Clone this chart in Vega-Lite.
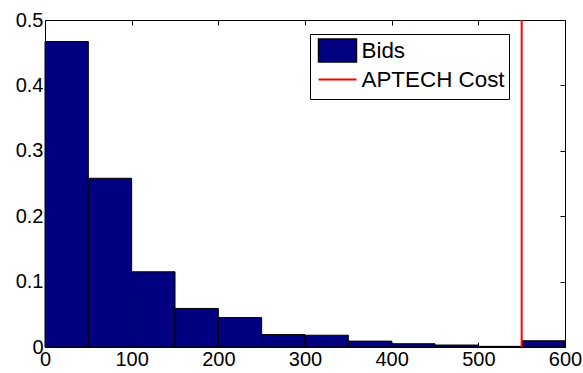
{
  "$schema": "https://vega.github.io/schema/vega-lite/v6.json",
  "width": 520,
  "height": 327,
  "autosize": "none",
  "padding": {"left": 45, "top": 20, "right": 18, "bottom": 26},
  "background": "white",
  "datasets": {
    "bins": [
      {"lo": 0, "hi": 50, "freq": 0.467, "series": "Bids"},
      {"lo": 50, "hi": 100, "freq": 0.258, "series": "Bids"},
      {"lo": 100, "hi": 150, "freq": 0.115, "series": "Bids"},
      {"lo": 150, "hi": 200, "freq": 0.059, "series": "Bids"},
      {"lo": 200, "hi": 250, "freq": 0.045, "series": "Bids"},
      {"lo": 250, "hi": 300, "freq": 0.019, "series": "Bids"},
      {"lo": 300, "hi": 350, "freq": 0.018, "series": "Bids"},
      {"lo": 350, "hi": 400, "freq": 0.009, "series": "Bids"},
      {"lo": 400, "hi": 450, "freq": 0.005, "series": "Bids"},
      {"lo": 450, "hi": 500, "freq": 0.003, "series": "Bids"},
      {"lo": 500, "hi": 550, "freq": 0.001, "series": "Bids"},
      {"lo": 550, "hi": 600, "freq": 0.0095, "series": "Bids"}
    ],
    "cost": [
      {"cost": 550, "ylo": 0, "yhi": 0.5, "series": "APTECH Cost"}
    ]
  },
  "config": {
    "view": {"stroke": "black", "strokeWidth": 1},
    "axis": {
      "grid": false,
      "domain": false,
      "labelFont": "Liberation Sans",
      "labelFontSize": 20,
      "labelColor": "black",
      "labelFlush": false,
      "labelOverlap": false,
      "tickColor": "black",
      "tickSize": -5,
      "tickWidth": 1,
      "labelPadding": 7,
      "title": null
    }
  },
  "layer": [
    {
      "data": {"name": "bins"},
      "mark": {"type": "bar", "stroke": "black", "strokeWidth": 1, "opacity": 1},
      "encoding": {
        "x": {"field": "lo", "type": "quantitative", "scale": {"domain": [0, 600], "nice": false, "zero": false},
              "axis": {"values": [0, 100, 200, 300, 400, 500, 600], "orient": "bottom"}},
        "x2": {"field": "hi"},
        "y": {"field": "freq", "type": "quantitative", "scale": {"domain": [0, 0.5], "nice": false},
              "axis": {"values": [0, 0.1, 0.2, 0.3, 0.4, 0.5], "format": ".1~f", "orient": "left"}},
        "y2": {"datum": 0},
        "color": {
          "field": "series", "type": "nominal",
          "scale": {"domain": ["Bids", "APTECH Cost"], "range": ["#000080", "#ffffff"]},
          "legend": {
            "orient": "none", "legendX": 265, "legendY": 14, "title": null,
            "padding": 4, "strokeColor": "black", "fillColor": "white",
            "labelFont": "Liberation Sans", "labelFontSize": 22.4, "labelColor": "black",
            "symbolType": "M-1.65,-1H1.65V1H-1.65Z",
            "symbolSize": 529, "symbolOffset": 11, "labelOffset": 11.5, "rowPadding": 1,
            "symbolOpacity": 1
          }
        }
      }
    },
    {
      "data": {"name": "cost"},
      "mark": {"type": "rule", "strokeWidth": 2},
      "encoding": {
        "x": {"field": "cost", "type": "quantitative", "scale": {"domain": [0, 600], "nice": false, "zero": false},
              "axis": {"values": [0, 100, 200, 300, 400, 500, 600], "orient": "top", "labels": false}},
        "y": {"field": "ylo", "type": "quantitative", "scale": {"domain": [0, 0.5], "nice": false},
              "axis": {"values": [0, 0.1, 0.2, 0.3, 0.4, 0.5], "orient": "right", "labels": false}},
        "y2": {"field": "yhi"},
        "stroke": {
          "field": "series", "type": "nominal",
          "scale": {"domain": ["APTECH Cost"], "range": ["#ff0000"]},
          "legend": {
            "orient": "none", "legendX": 266, "legendY": 44, "title": null,
            "padding": 3, "strokeColor": "transparent", "fillColor": "white",
            "labelFont": "Liberation Sans", "labelFontSize": 22.4, "labelColor": "black",
            "symbolType": "M-1.65,0H1.65",
            "symbolSize": 529, "symbolOffset": 11, "labelOffset": 11.5,
            "symbolStrokeWidth": 2, "symbolOpacity": 1
          }
        }
      }
    }
  ],
  "resolve": {"scale": {"x": "independent", "y": "independent"}}
}
